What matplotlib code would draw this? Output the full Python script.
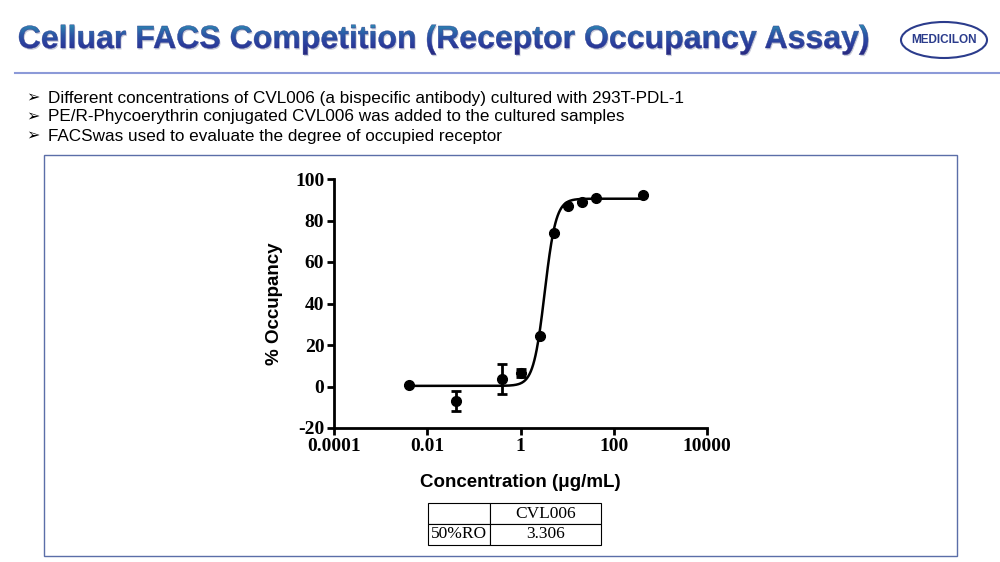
import numpy as np
import matplotlib.pyplot as plt
from matplotlib.patches import Rectangle, Ellipse, PathPatch
from matplotlib.lines import Line2D
from matplotlib.textpath import TextPath
from matplotlib.font_manager import FontProperties
from matplotlib.colors import LinearSegmentedColormap
from matplotlib.transforms import Affine2D

plt.rcParams['axes.unicode_minus'] = False

# dados
conc = [0.0041, 0.041, 0.41, 1.0, 2.6, 5.2, 10.2, 20.5, 41, 414]
occupancy = [0.8, -6.9, 3.5, 6.4, 24.4, 74, 87, 89, 90.7, 92.4]
erro = [0, 4.8, 7.3, 1.8, 0, 0, 0, 0, 0, 0]

# parâmetros do ajuste (4PL)
fundo = 0.3
topo = 90.5
ec50 = 3.306
hill = 3.6

x_ticks = [0.0001, 0.01, 1, 100, 10000]
x_tick_labels = ['0.0001', '0.01', '1', '100', '10000']
y_ticks = [-20, 0, 20, 40, 60, 80, 100]

tabela = [['', 'CVL006'], ['50%RO', '3.306']]

titulo = 'Celluar FACS Competition (Receptor Occupancy Assay)'
bullets = [
    'Different concentrations of CVL006 (a bispecific antibody) cultured with 293T-PDL-1',
    'PE/R-Phycoerythrin conjugated CVL006 was added to the cultured samples',
    'FACSwas used to evaluate the degree of occupied receptor',
]

fig = plt.figure(figsize=(10, 5.62), dpi=100)

# camada de fundo em pixels (y para cima)
bg = fig.add_axes([0, 0, 1, 1])
bg.axis('off')

# título com gradiente
tp = TextPath((0, 0), titulo, size=32, prop=FontProperties(family='Liberation Sans', weight='bold'))
ext = tp.get_extents()
sx = 849 / ext.width
tp = tp.transformed(Affine2D().translate(-ext.x0, 0).scale(sx, 1).translate(19, 562 - 48))
sombra = PathPatch(tp.transformed(Affine2D().translate(1, -1.5)), facecolor='#C8CAD8',
                   edgecolor='none', zorder=1)
bg.add_patch(sombra)
patch = PathPatch(tp, facecolor='none', edgecolor='#2B3A8E', lw=0.3, zorder=3)
bg.add_patch(patch)
grad = LinearSegmentedColormap.from_list('tit', ['#28287E', '#2B3C9C', '#2C58A6', '#2F8AB2'])
bg.imshow(np.linspace(0, 1, 100).reshape(-1, 1), cmap=grad, origin='lower', aspect='auto',
          extent=[0, 1000, 562 - 55, 562 - 24], clip_path=patch, zorder=2)
bg.set_xlim(0, 1000)
bg.set_ylim(0, 562)

bg.add_line(Line2D([15, 1000], [562 - 73] * 2, color='#8C9AD8', lw=1.5))

# logo
bg.add_patch(Ellipse((944, 562 - 40), 86, 36, fill=False, edgecolor='#2B3C8C', lw=1.5))
bg.text(944, 562 - 40, 'MEDICILON', fontsize=8.5, fontweight='bold',
        color='#2B3C8C', ha='center', va='center', family='Liberation Sans')

# tópicos
for i, b in enumerate(bullets):
    y = 562 - (98 + i * 19)
    bg.text(26, y, '➢', fontsize=11.5, va='center', family=['DejaVu Sans'])
    bg.text(48, y, b, fontsize=12.3, va='center', family=['Liberation Sans', 'DejaVu Sans'])

# moldura
bg.add_patch(Rectangle((44, 6), 913, 401, fill=False, edgecolor='#5B6EA8', lw=1))

# gráfico
ax = fig.add_axes([0.334, 1 - 428 / 562, 0.373, 249 / 562])
xc = np.logspace(np.log10(conc[0]), np.log10(conc[-1]), 400)
yc = fundo + (topo - fundo) / (1 + (ec50 / xc) ** hill)
ax.plot(xc, yc, color='black', lw=1.8)
ax.errorbar(conc, occupancy, yerr=erro, fmt='o', color='black', ms=7,
            elinewidth=2, capsize=3.5, capthick=2)
ax.set_xscale('log')
ax.set_xlim(0.0001, 10000)
ax.set_ylim(-20, 100)
ax.set_xticks(x_ticks)
ax.set_xticklabels(x_tick_labels)
ax.xaxis.set_minor_locator(plt.NullLocator())
ax.set_yticks(y_ticks)
for s in ['top', 'right']:
    ax.spines[s].set_visible(False)
for s in ['left', 'bottom']:
    ax.spines[s].set_linewidth(2)
ax.tick_params(width=2, length=5, pad=2)
for lab in ax.get_xticklabels() + ax.get_yticklabels():
    lab.set_fontfamily('Liberation Serif')
    lab.set_fontweight('bold')
    lab.set_fontsize(14)
ax.set_ylabel('% Occupancy', fontsize=13.5, fontweight='bold', family='Liberation Sans')
ax.yaxis.set_label_coords(-0.137, 0.5)
ax.set_xlabel('Concentration (μg/mL)', fontsize=13.5, fontweight='bold',
              family=['Liberation Sans', 'DejaVu Sans'], labelpad=14)

# tabela
axt = fig.add_axes([0.428, 1 - 545 / 562, 0.173, 42 / 562])
axt.axis('off')
t = axt.table(cellText=tabela, bbox=[0, 0, 1, 1], cellLoc='center', colWidths=[0.36, 0.64])
t.auto_set_font_size(False)
for (r, c), cell in t.get_celld().items():
    cell.set_linewidth(0.8)
    cell.get_text().set_fontfamily('Liberation Serif')
    cell.get_text().set_fontsize(12.5)

plt.savefig('out.png', dpi=100)
